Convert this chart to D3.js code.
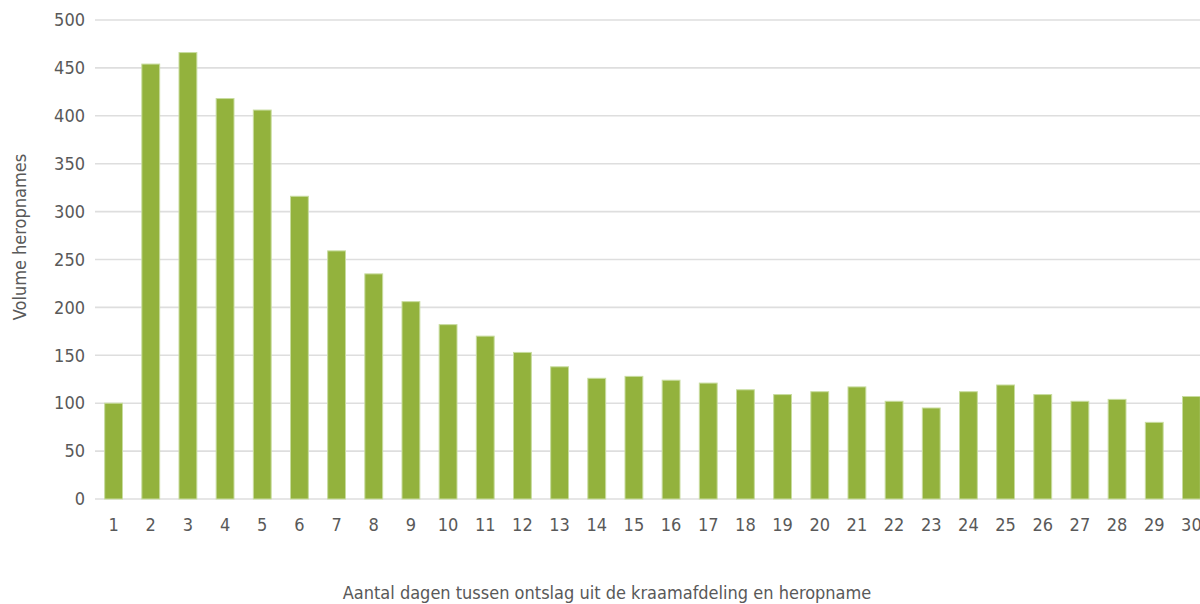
<!DOCTYPE html>
<html>
<head>
<meta charset="utf-8">
<script src="https://cdn.jsdelivr.net/npm/d3@7"></script>
<style>
  html, body { margin: 0; padding: 0; background: #fff; }
  svg { display: block; }
  text { font-family: "Liberation Sans Narrow", "DejaVu Sans Condensed", "Roboto", sans-serif; fill: #595959; }
</style>
</head>
<body>
<svg id="chart" width="1200" height="604"></svg>
<script>
// Days between discharge from the maternity ward and readmission
const days = d3.range(1, 31).map(String);
// Number of readmissions per day
const readmissions = [100, 454, 466, 418, 406, 316, 259, 235, 206, 182,
                      170, 153, 138, 126, 128, 124, 121, 114, 109, 112,
                      117, 102, 95, 112, 119, 109, 102, 104, 80, 107];
const yTicks = [0, 50, 100, 150, 200, 250, 300, 350, 400, 450, 500];

const svg = d3.select("#chart");
const plotLeft = 95, plotRight = 1210, plotTop = 20, plotBottom = 499;

const x = d3.scaleBand().domain(days).range([plotLeft, plotRight]).paddingInner(0.52).paddingOuter(0.26);
const y = d3.scaleLinear().domain([0, 500]).range([plotBottom, plotTop]);

// horizontal gridlines
svg.append("g")
  .selectAll("line")
  .data(yTicks)
  .join("line")
  .attr("x1", plotLeft).attr("x2", plotRight)
  .attr("y1", d => y(d)).attr("y2", d => y(d))
  .attr("stroke", "#dedede").attr("stroke-width", 1.6);

// y axis labels
const yAxis = svg.append("g")
  .attr("transform", `translate(${plotLeft - 10},0)`)
  .call(d3.axisLeft(y).tickValues(yTicks).tickSize(0).tickPadding(0));
yAxis.select(".domain").remove();
yAxis.selectAll("text").style("font-size", "18px").attr("fill", "#595959");

// bars
svg.append("g")
  .selectAll("rect")
  .data(readmissions)
  .join("rect")
  .attr("x", (d, i) => x(days[i]))
  .attr("width", x.bandwidth())
  .attr("y", d => y(d))
  .attr("height", d => y(0) - y(d))
  .attr("fill", "#93b23d")
  .attr("stroke", "#c8dc9f")
  .attr("stroke-width", 1);

// x axis labels
const xAxis = svg.append("g")
  .attr("transform", `translate(0,${plotBottom})`)
  .call(d3.axisBottom(x).tickSize(0).tickPadding(19));
xAxis.select(".domain").remove();
xAxis.selectAll("text").style("font-size", "18px").attr("fill", "#595959");

// axis titles
svg.append("text")
  .attr("x", 607).attr("y", 599)
  .attr("text-anchor", "middle")
  .style("font-size", "18px")
  .text("Aantal dagen tussen ontslag uit de kraamafdeling en heropname");

svg.append("text")
  .attr("transform", "translate(26,237) rotate(-90)")
  .attr("text-anchor", "middle")
  .style("font-size", "18px")
  .text("Volume heropnames");
</script>
</body>
</html>
